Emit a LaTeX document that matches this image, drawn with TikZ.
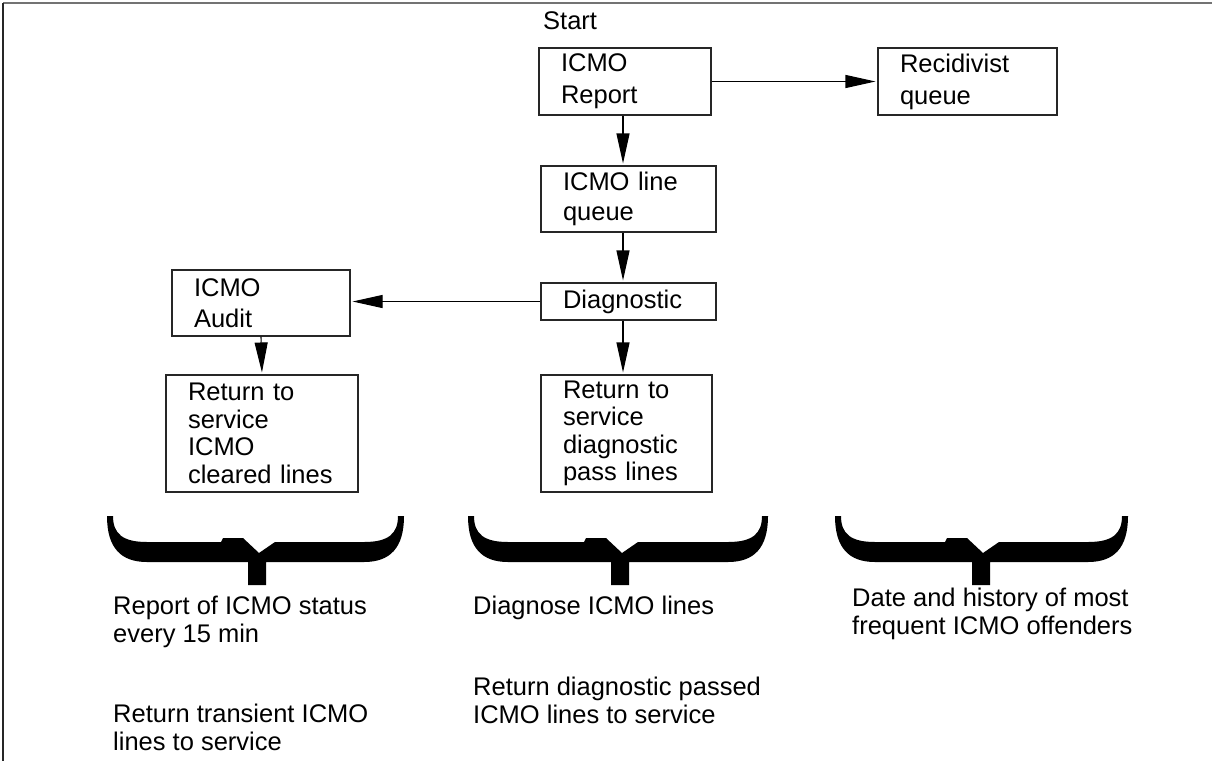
\documentclass[tikz,border=0pt]{standalone}
\usepackage{fontspec}
\setmainfont{Liberation Sans}
\usetikzlibrary{arrows.meta}
\newcommand{\mybrace}[3]{%
\fill[black] (#1,516) .. controls (#1,548) and (#1+14,562) .. (#1+40,562)
 -- (#2-9,562) -- (#2-9,585) -- (#2+9,585) -- (#2+9,562) -- (#3-40,562)
 .. controls (#3-14,562) and (#3,548) .. (#3,516)
 -- (#3-6,516) .. controls (#3-6,534) and (#3-16,542) .. (#3-40,542)
 -- (#2+18,542) -- (#2+2,553) -- (#2-14,538) -- (#2-34,538) -- (#2-36,542)
 -- (#1+40,542) .. controls (#1+16,542) and (#1+6,534) .. (#1+6,516) -- cycle;}
\begin{document}
\begin{tikzpicture}[x=1pt,y=-1pt,
  txt/.style={font=\fontsize{25.5}{28.5}\selectfont, inner sep=0pt, anchor=base west},
  box/.style={draw=black!85, line width=1.1pt, align=left, inner xsep=22pt, inner ysep=0pt,
    font=\fontsize{25.5}{32}\selectfont},
  arr/.style={-{Triangle[length=30pt,width=13pt]}, line width=1.1pt, shorten >=2pt}]
\useasboundingbox (0,0) rectangle (1212,761);
\draw[black!55, line width=1.6pt] (3,3) -- (1212,3);
\draw[black!85, line width=1.6pt] (3,3) -- (3,761);
\coordinate (ax) at (623,0);
\node[txt] (start) at (543,29) {Start};
\node[box, text width=128pt, minimum height=67pt] (rep) at (625,81.5) {ICMO\\Report};
\node[box, text width=135pt, minimum height=67pt] (rec) at (967.5,81.5) {Recidivist\\queue};
\node[box, text width=131pt, minimum height=66pt, font=\fontsize{25.5}{30}\selectfont] (lq) at (628.5,199) {ICMO line\\queue};
\node[box, text width=131pt, minimum height=37pt] (diag) at (628.5,301.5) {Diagnostic};
\node[box, text width=134pt, minimum height=66pt, font=\fontsize{25.5}{31}\selectfont] (aud) at (261,303) {ICMO\\Audit};
\node[box, text width=148pt, minimum height=117pt, font=\fontsize{25.5}{27.5}\selectfont] (ret1) at (262,433.5) {Return to\\service\\ICMO\\cleared lines};
\node[box, text width=127pt, minimum height=117pt, font=\fontsize{25.5}{27.5}\selectfont] (ret2) at (626.5,433.5) {Return to\\service\\diagnostic\\pass lines};
\draw[arr] (rep.east) -- (rec.west);
\draw[arr] (rep.south -| ax) -- (lq.north -| ax);
\draw[arr] (lq.south -| ax) -- (diag.north -| ax);
\draw[arr] (diag.west) -- (diag.west -| aud.east);
\draw[arr] (aud.south) -- (ret1.north);
\draw[arr] (diag.south -| ax) -- (ret2.north -| ax);
\mybrace{107}{257}{404}
\mybrace{468}{620}{768}
\mybrace{835}{981}{1128}
\node[txt] (l1) at (113,614) {Report of ICMO status};
\node[txt] (l2) at (113,642.5) {every 15 min};
\node[txt] (l3) at (113,722) {Return transient ICMO};
\node[txt] (l4) at (113,750.5) {lines to service};
\node[txt] (m1) at (473,614) {Diagnose ICMO lines};
\node[txt] (m2) at (473,695) {Return diagnostic passed};
\node[txt] (m3) at (473,723.5) {ICMO lines to service};
\node[txt] (r1) at (852,606) {Date and history of most};
\node[txt] (r2) at (852,634.5) {frequent ICMO offenders};
\end{tikzpicture}
\end{document}
